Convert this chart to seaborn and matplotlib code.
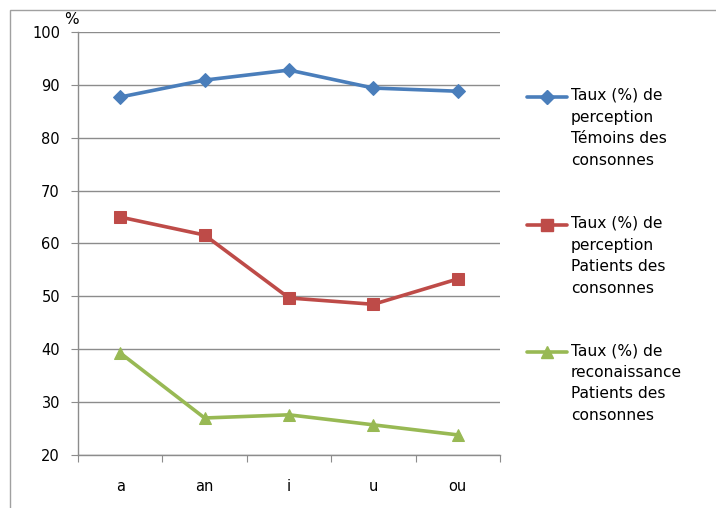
import pandas as pd
import seaborn as sns
import matplotlib.pyplot as plt
from matplotlib.lines import Line2D
from matplotlib.patches import Rectangle

# Data
categories = ["a", "an", "i", "u", "ou"]
temoins_perception = [87.7, 90.9, 92.8, 89.4, 88.8]
patients_perception = [65.0, 61.6, 49.7, 48.5, 53.3]
patients_reconnaissance = [39.3, 27.0, 27.6, 25.7, 23.8]

series_labels = [
    "Taux (%) de\nperception\nTémoins des\nconsonnes",
    "Taux (%) de\nperception\nPatients des\nconsonnes",
    "Taux (%) de\nreconaissance\nPatients des\nconsonnes",
]
series_values = [temoins_perception, patients_perception, patients_reconnaissance]
colors = ["#4A7EBB", "#BE4B48", "#98B954"]
markers = ["D", "s", "^"]
marker_sizes = [7.5, 8, 9]

sns.set_style("white")
plt.rcParams["font.family"] = ["DejaVu Sans"]
plt.rcParams["text.color"] = "black"
plt.rcParams["xtick.color"] = "black"
plt.rcParams["ytick.color"] = "black"

fig = plt.figure(figsize=(7.16, 5.08), dpi=100)
ax = fig.add_axes([78 / 716, 1 - 455 / 508, 422 / 716, 423 / 508])

for vals, col, mk, ms in zip(series_values, colors, markers, marker_sizes):
    df = pd.DataFrame({"cat": categories, "val": vals})
    sns.lineplot(data=df, x="cat", y="val", ax=ax, color=col, marker=mk,
                 markersize=ms, markeredgecolor=col, linewidth=2.6, sort=False)

# Axes styling
ax.set_xlim(-0.5, len(categories) - 0.5)
ax.set_ylim(20, 100)
ax.set_yticks(range(20, 101, 10))
ax.set_xlabel("")
ax.set_ylabel("")
ax.yaxis.grid(True, color="#8C8C8C", linewidth=1)
ax.set_axisbelow(True)
for s in ["top", "right"]:
    ax.spines[s].set_visible(False)
for s in ["left", "bottom"]:
    ax.spines[s].set_color("#8C8C8C")
    ax.spines[s].set_linewidth(1)

ax.set_xticks([i - 0.5 for i in range(len(categories) + 1)])
ax.set_xticklabels([])
ax.set_xticks(range(len(categories)), minor=True)
ax.set_xticklabels(categories, minor=True, fontsize=10.5)
ax.tick_params(axis="x", which="major", length=5, color="#8C8C8C", direction="out", bottom=True)
ax.tick_params(axis="x", which="minor", length=0, pad=17)
ax.tick_params(axis="y", length=5, color="#8C8C8C", direction="out", left=True, labelsize=10.5, pad=8)

fig.text(71 / 716, 1 - 19 / 508, "%", fontsize=11, ha="center", va="center")

# Legend drawn to match the original (handle on first label line)
legend_y = [97, 225, 352]
for y, col, mk, ms, lab in zip(legend_y, colors, markers, marker_sizes, series_labels):
    yf = 1 - y / 508
    fig.add_artist(Line2D([527 / 716, 567 / 716], [yf, yf], color=col, linewidth=2.6,
                          transform=fig.transFigure))
    fig.add_artist(Line2D([547 / 716], [yf], color=col, marker=mk, markersize=ms,
                          markeredgecolor=col, transform=fig.transFigure))
    fig.text(571 / 716, yf + 9 / 508, lab, fontsize=11.2, ha="left", va="top", linespacing=1.55)

# Outer chart border
fig.add_artist(Rectangle((10 / 716, -0.1), 2, 1.1 - 10 / 508, fill=False,
                         edgecolor="#A0A0A0", linewidth=1, transform=fig.transFigure))

fig.savefig("out.png", dpi=100)
